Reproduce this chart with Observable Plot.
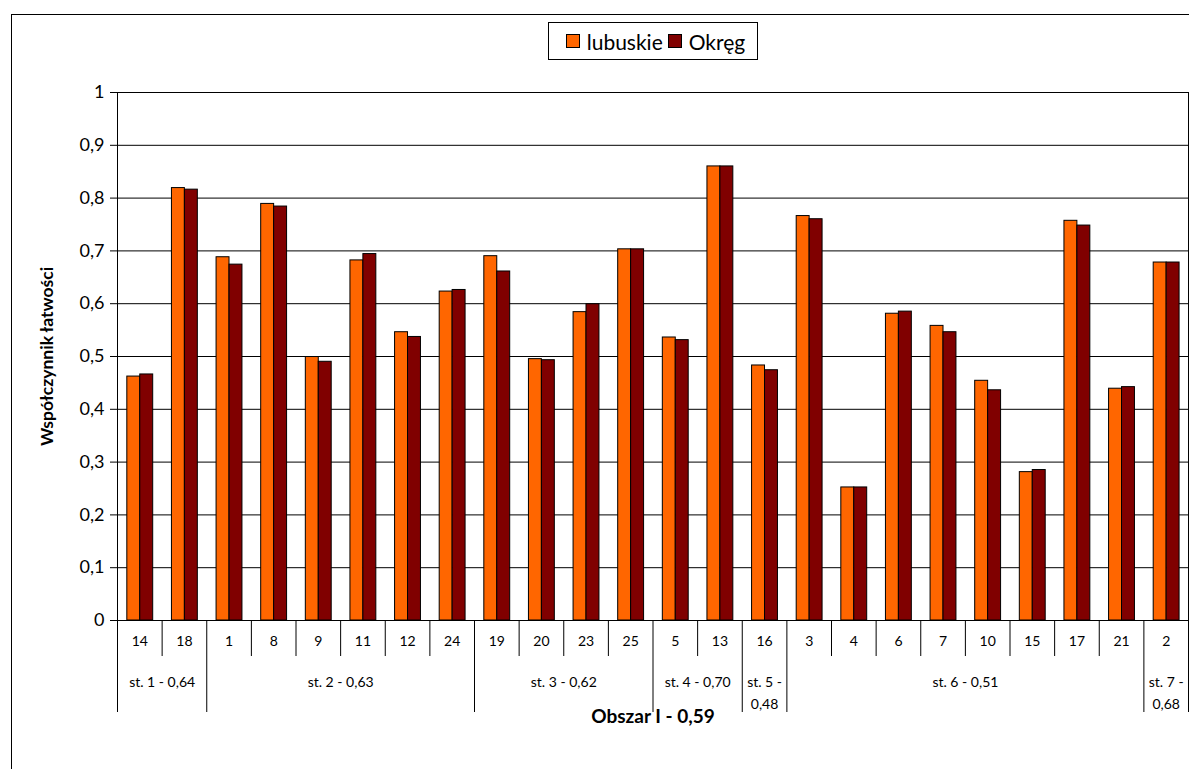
<!DOCTYPE html>
<html>
<head>
<meta charset="utf-8">
<script src="https://cdn.jsdelivr.net/npm/d3@7"></script>
<script src="https://cdn.jsdelivr.net/npm/@observablehq/plot@0.6"></script>
<style>
  html, body { margin: 0; padding: 0; background: #fff; overflow: hidden; }
  body { width: 1189px; height: 769px; position: relative; font-family: Lato, "Open Sans", sans-serif; }
  #chart { position: absolute; left: 0; top: 0; }
  #outer { position: absolute; left: 11px; top: 14px; width: 1300px; height: 900px; border-left: 1.5px solid #000; border-top: 1.5px solid #000; pointer-events: none; }
  #legend { position: absolute; left: 548px; top: 22px; width: 208px; height: 36px; border: 1px solid #000; background: #fff;
            display: flex; align-items: center; justify-content: center; font-size: 21px; color: #000; }
  .sw { display: inline-block; width: 12px; height: 12px; border: 1px solid #000; margin: 0 7px 0 5px; }
</style>
</head>
<body>
<div id="chart"></div>
<div id="outer"></div>
<div id="legend"></div>
<script>
// ---- data ----
const categories = ["14","18","1","8","9","11","12","24","19","20","23","25","5","13","16","3","4","6","7","10","15","17","21","2"];
const lubuskie = [0.462,0.819,0.688,0.789,0.499,0.682,0.546,0.623,0.690,0.495,0.584,0.703,0.536,0.860,0.483,0.766,0.252,0.581,0.558,0.454,0.281,0.757,0.439,0.678];
const okreg    = [0.466,0.816,0.674,0.784,0.490,0.694,0.537,0.626,0.661,0.493,0.599,0.703,0.531,0.860,0.474,0.760,0.252,0.585,0.546,0.436,0.285,0.748,0.442,0.678];
const seriesNames = ["lubuskie", "Okręg"];
const seriesColors = ["#FF6600", "#800000"];
const groupLabels = ["st. 1 - 0,64", "st. 2 - 0,63", "st. 3 - 0,62", "st. 4 - 0,70", "st. 5 -\n0,48", "st. 6 - 0,51", "st. 7 -\n0,68"];
const groupSizes = [2, 6, 4, 2, 1, 8, 1];
const yTicks = [0, 0.1, 0.2, 0.3, 0.4, 0.5, 0.6, 0.7, 0.8, 0.9, 1];
const yTitle = "Współczynnik łatwości";
const xTitle = "Obszar I - 0,59";

// ---- derived tables ----
const seriesValues = [lubuskie, okreg];
const rows = [];
categories.forEach((c, i) => {
  seriesNames.forEach((s, k) => rows.push({i, cat: c, series: s, k, value: seriesValues[k][i]}));
});
const n = categories.length;
const groups = [];
let start = 0;
groupLabels.forEach((g, j) => { groups.push({label: g, start, end: start + groupSizes[j]}); start += groupSizes[j]; });
const groupBounds = [0, ...groups.map(g => g.end)];
const innerBounds = d3.range(1, n).filter(i => !groupBounds.includes(i));

const barStart = 0.22, barW = 0.29;

const chart = Plot.plot({
  width: 1189,
  height: 769,
  marginLeft: 117,
  marginRight: 1,
  marginTop: 92,
  marginBottom: 149,
  style: {fontFamily: "Lato, 'Open Sans', sans-serif", fontSize: "18px", background: "transparent", color: "#000"},
  x: {domain: [0, n], axis: null},
  y: {domain: [0, 1], ticks: yTicks, tickFormat: d => String(d).replace(".", ","), tickSize: 7, tickPadding: 6, label: null},
  color: {domain: seriesNames, range: seriesColors},
  marks: [
    Plot.ruleY(yTicks, {stroke: "#000", strokeWidth: 1}),
    Plot.rect(rows, {
      x1: d => d.i + barStart + d.k * barW,
      x2: d => d.i + barStart + (d.k + 1) * barW,
      y1: 0, y2: "value",
      fill: "series", stroke: "#000", strokeWidth: 1
    }),
    // y axis line & frame edges, extended down through both label rows
    Plot.ruleX(groupBounds.filter(b => b === 0 || b === n), {x: d => d, y1: 1, y2: 0, insetBottom: -92, stroke: "#000"}),
    Plot.ruleX(groupBounds.filter(b => b !== 0 && b !== n), {x: d => d, y1: 0, y2: 0, insetBottom: -92, stroke: "#000"}),
    Plot.ruleX(innerBounds, {x: d => d, y1: 0, y2: 0, insetBottom: -36, stroke: "#000"}),
    Plot.ruleY([0], {stroke: "#000"}),
    // category labels
    Plot.text(categories, {x: (d, i) => i + 0.5, frameAnchor: "bottom", lineAnchor: "middle", dy: 21, text: d => d, fontSize: 14, fill: "#000"}),
    // group labels
    Plot.text(groups, {x: d => (d.start + d.end) / 2, frameAnchor: "bottom", dy: 51, lineAnchor: "top", lineHeight: 1.55, text: "label", fontSize: 14, fill: "#000"}),
    // axis titles
    Plot.text([xTitle], {frameAnchor: "bottom", lineAnchor: "middle", dy: 96, text: d => d, fontSize: 19, fontWeight: "bold", fill: "#000"}),
    Plot.text([yTitle], {frameAnchor: "left", textAnchor: "middle", lineAnchor: "middle", dx: -70, rotate: -90, text: d => d, fontSize: 17.5, fontWeight: "bold", fill: "#000"})
  ]
});
document.getElementById("chart").appendChild(chart);

// legend
const legend = document.getElementById("legend");
seriesNames.forEach((s, k) => {
  const sw = document.createElement("span");
  sw.className = "sw";
  sw.style.background = seriesColors[k];
  const t = document.createElement("span");
  t.textContent = s;
  legend.appendChild(sw);
  legend.appendChild(t);
});
</script>
</body>
</html>
